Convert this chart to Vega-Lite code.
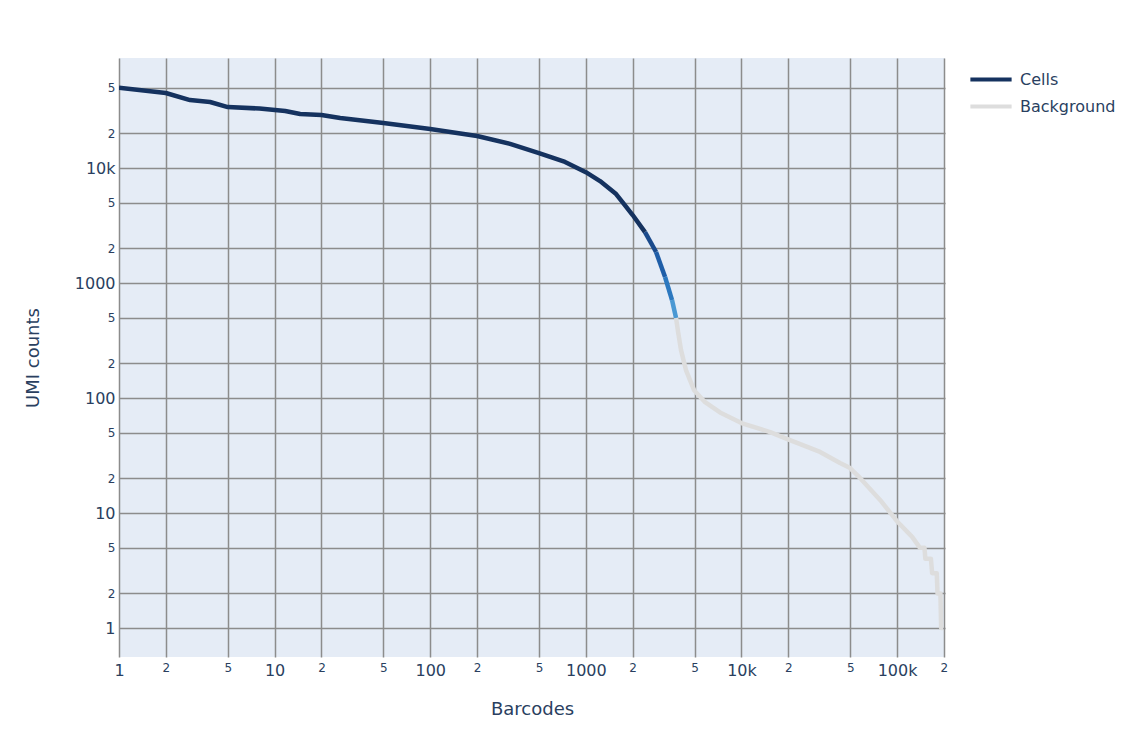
{
  "$schema": "https://vega.github.io/schema/vega-lite/v6.json",
  "autosize": {"type": "none"},
  "width": 826,
  "height": 599,
  "padding": {"left": 119, "top": 58, "right": 186, "bottom": 78},
  "background": "white",
  "config": {
    "view": {"fill": "#E5ECF6", "stroke": null},
    "font": "DejaVu Sans"
  },
  "data": {
    "values": [
      {"rank": 1, "umi": 50000, "series": "Cells"},
      {"rank": 2, "umi": 44900, "series": "Cells"},
      {"rank": 2.86, "umi": 39000, "series": "Cells"},
      {"rank": 3.85, "umi": 37500, "series": "Cells"},
      {"rank": 5, "umi": 33900, "series": "Cells"},
      {"rank": 8, "umi": 32900, "series": "Cells"},
      {"rank": 11.7, "umi": 31300, "series": "Cells"},
      {"rank": 14.6, "umi": 29500, "series": "Cells"},
      {"rank": 20, "umi": 28900, "series": "Cells"},
      {"rank": 26.4, "umi": 27200, "series": "Cells"},
      {"rank": 50, "umi": 24600, "series": "Cells"},
      {"rank": 100, "umi": 21800, "series": "Cells"},
      {"rank": 200, "umi": 19000, "series": "Cells"},
      {"rank": 326, "umi": 16200, "series": "Cells"},
      {"rank": 500, "umi": 13500, "series": "Cells"},
      {"rank": 735, "umi": 11300, "series": "Cells"},
      {"rank": 1000, "umi": 9200, "series": "Cells"},
      {"rank": 1234, "umi": 7700, "series": "Cells"},
      {"rank": 1565, "umi": 5940, "series": "Cells"},
      {"rank": 1760, "umi": 4860, "series": "Cells"},
      {"rank": 2000, "umi": 3900, "series": "Cells"},
      {"rank": 2400, "umi": 2770, "series": "Cells"},
      {"rank": 2400, "umi": 2770, "series": "s1"},
      {"rank": 2827, "umi": 1860, "series": "s1"},
      {"rank": 2827, "umi": 1860, "series": "s2"},
      {"rank": 3230, "umi": 1128, "series": "s2"},
      {"rank": 3230, "umi": 1128, "series": "s3"},
      {"rank": 3580, "umi": 711, "series": "s3"},
      {"rank": 3580, "umi": 711, "series": "s4"},
      {"rank": 3800, "umi": 496, "series": "s4"},
      {"rank": 3800, "umi": 496, "series": "Background"},
      {"rank": 3900, "umi": 390, "series": "Background"},
      {"rank": 4090, "umi": 261, "series": "Background"},
      {"rank": 4400, "umi": 175, "series": "Background"},
      {"rank": 4960, "umi": 117, "series": "Background"},
      {"rank": 5840, "umi": 92, "series": "Background"},
      {"rank": 7280, "umi": 75, "series": "Background"},
      {"rank": 10000, "umi": 60.6, "series": "Background"},
      {"rank": 15300, "umi": 50.6, "series": "Background"},
      {"rank": 20500, "umi": 43, "series": "Background"},
      {"rank": 32000, "umi": 34, "series": "Background"},
      {"rank": 43000, "umi": 27.2, "series": "Background"},
      {"rank": 49900, "umi": 24.6, "series": "Background"},
      {"rank": 57800, "umi": 20.2, "series": "Background"},
      {"rank": 77800, "umi": 13, "series": "Background"},
      {"rank": 101000, "umi": 8.35, "series": "Background"},
      {"rank": 125000, "umi": 6.2, "series": "Background"},
      {"rank": 140000, "umi": 5, "series": "Background"},
      {"rank": 150000, "umi": 5, "series": "Background"},
      {"rank": 152000, "umi": 4, "series": "Background"},
      {"rank": 165000, "umi": 4, "series": "Background"},
      {"rank": 168000, "umi": 3, "series": "Background"},
      {"rank": 180000, "umi": 3, "series": "Background"},
      {"rank": 182000, "umi": 2, "series": "Background"},
      {"rank": 190000, "umi": 2, "series": "Background"},
      {"rank": 192000, "umi": 1, "series": "Background"},
      {"rank": 198000, "umi": 1, "series": "Background"}
    ]
  },
  "mark": {"type": "line", "strokeWidth": 4.5, "clip": true, "strokeJoin": "round"},
  "encoding": {
    "x": {
      "field": "rank",
      "type": "quantitative",
      "scale": {"type": "log", "domain": [1, 203300], "nice": false},
      "axis": {
        "title": "Barcodes",
        "titleFontSize": 18,
        "titleFontWeight": "normal",
        "titleColor": "#2a3f5f",
        "titleBaseline": "middle",
        "titleY": 52,
        "values": [1, 2, 5, 10, 20, 50, 100, 200, 500, 1000, 2000, 5000, 10000, 20000, 50000, 100000, 200000],
        "labelExpr": "abs(log(datum.value)/LN10 - round(log(datum.value)/LN10)) < 1e-6 ? (datum.value >= 10000 ? format(datum.value/1000, 'd') + 'k' : format(datum.value, 'd')) : format(datum.value / pow(10, floor(log(datum.value)/LN10 + 1e-9)), 'd')",
        "labelFontSize": {"condition": {"test": "abs(log(datum.value)/LN10 - round(log(datum.value)/LN10)) < 1e-6", "value": 16}, "value": 12},
        "labelColor": "#2a3f5f",
        "labelPadding": 5,
        "labelFlush": false,
        "labelOverlap": false,
        "ticks": false,
        "domain": false,
        "grid": true,
        "gridColor": "#8c8c8c",
        "gridWidth": 1.5
      }
    },
    "y": {
      "field": "umi",
      "type": "quantitative",
      "scale": {"type": "log", "domain": [0.56, 90500], "nice": false},
      "axis": {
        "title": "UMI counts",
        "titleFontSize": 18,
        "titleFontWeight": "normal",
        "titleColor": "#2a3f5f",
        "titleX": -86,
        "titleBaseline": "middle",
        "values": [1, 2, 5, 10, 20, 50, 100, 200, 500, 1000, 2000, 5000, 10000, 20000, 50000],
        "labelExpr": "abs(log(datum.value)/LN10 - round(log(datum.value)/LN10)) < 1e-6 ? (datum.value >= 10000 ? format(datum.value/1000, 'd') + 'k' : format(datum.value, 'd')) : format(datum.value / pow(10, floor(log(datum.value)/LN10 + 1e-9)), 'd')",
        "labelFontSize": {"condition": {"test": "abs(log(datum.value)/LN10 - round(log(datum.value)/LN10)) < 1e-6", "value": 16}, "value": 12},
        "labelColor": "#2a3f5f",
        "labelPadding": 4,
        "labelFlush": false,
        "labelOverlap": false,
        "ticks": false,
        "domain": false,
        "grid": true,
        "gridColor": "#8c8c8c",
        "gridWidth": 1.5
      }
    },
    "color": {
      "field": "series",
      "type": "nominal",
      "scale": {
        "domain": ["Cells", "s1", "s2", "s3", "s4", "Background"],
        "range": ["#15325f", "#1a4a8c", "#1f5ea8", "#2c78bf", "#4a98d3", "#dddddd"]
      },
      "legend": {
        "values": ["Cells", "Background"],
        "title": null,
        "orient": "none",
        "legendX": 849,
        "legendY": 8,
        "symbolType": "stroke",
        "symbolStrokeWidth": 4,
        "symbolSize": 1700,
        "labelFontSize": 16,
        "labelColor": "#2a3f5f",
        "clipHeight": 27,
        "rowPadding": 0,
        "labelOffset": 6
      }
    }
  }
}
